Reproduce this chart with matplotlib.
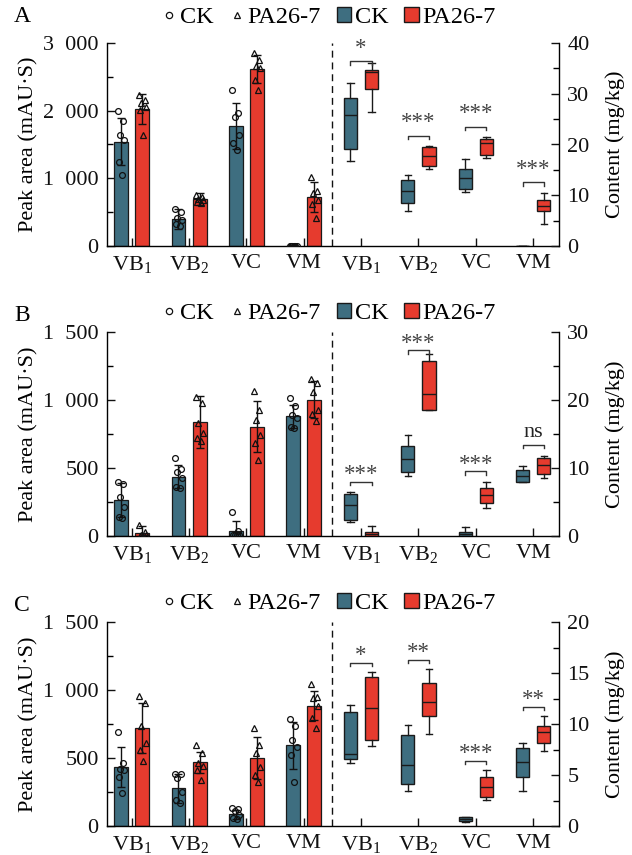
import matplotlib
matplotlib.use('Agg')
import matplotlib.pyplot as plt
from matplotlib.lines import Line2D
from matplotlib.patches import Patch
from matplotlib.ticker import MultipleLocator, FuncFormatter

plt.rcParams['font.family'] = ['Liberation Serif', 'DejaVu Serif']
plt.rcParams['mathtext.fontset'] = 'custom'
plt.rcParams['mathtext.rm'] = 'Liberation Serif'
plt.rcParams['mathtext.it'] = 'Liberation Serif:italic'

# ---------------- data ----------------
categories = [r'$\mathregular{VB_1}$', r'$\mathregular{VB_2}$', 'VC', 'VM']
groups = ['CK', 'PA26-7']

# Panel A (peak area bars, left) ------------------------------------------
A_ck_points = [[1997, 1854, 1641, 1567, 1236, 1048], [540, 500, 420, 380, 330, 290],
               [2299, 1972, 1913, 1641, 1518, 1419], [5, 5, 5, 5, 5, 5]]
A_ck_mean = [1542, 405, 1775, 5]
A_ck_sd = [345, 149, 335, 5]
A_pa_points = [[2230, 2160, 2110, 2060, 2010, 1640], [750, 730, 700, 680, 650, 640],
               [2852, 2753, 2654, 2630, 2457, 2308], [1023, 816, 776, 677, 628, 420]]
A_pa_mean = [2027, 692, 2620, 727]
A_pa_sd = [217, 84, 207, 222]
# Panel A content boxes (whislo, q1, med, q3, whishi)
A_ck_box = [[16.7, 19.2, 25.9, 29.2, 32.1], [6.8, 8.5, 10.9, 13.1, 14.0],
            [10.6, 11.2, 13.4, 15.2, 17.2], [0, 0, 0, 0, 0]]
A_pa_box = [[26.4, 30.9, 34.2, 34.7, 36.0], [15.2, 15.7, 17.7, 19.5, 19.7],
            [17.4, 18.0, 20.2, 21.0, 21.5], [4.3, 6.8, 7.9, 9.1, 10.4]]
A_sig = ['*', '***', '***', '***']
A_sig_y = [36.4, 21.7, 23.5, 12.6]

# Panel B ---------------------------------------------------------------
B_ck_points = [[400, 383, 290, 216, 137, 130], [572, 491, 474, 425, 363, 356],
               [174, 40, 10, 5, 5, 5], [1014, 953, 891, 867, 805, 793]]
B_ck_mean = [265, 437, 39, 879]
B_ck_sd = [123, 86, 74, 86]
B_pa_points = [[80, 30, 10, 5, 2, 2], [1020, 980, 830, 760, 720, 700],
               [1063, 928, 854, 744, 683, 560], [1154, 1124, 1060, 928, 900, 845]]
B_pa_mean = [20, 835, 805, 1002]
B_pa_sd = [54, 191, 184, 135]
B_ck_box = [[2.1, 2.4, 4.5, 6.2, 6.5], [8.8, 9.4, 11.3, 13.2, 14.9],
            [0, 0, 0.3, 0.6, 1.3], [8.0, 8.0, 8.8, 9.7, 10.3]]
B_pa_box = [[0, 0, 0.3, 0.6, 1.4], [18.5, 18.6, 20.9, 25.7, 26.8],
            [4.1, 4.9, 6.0, 7.1, 8.0], [8.5, 9.1, 10.5, 11.5, 11.8]]
B_sig = ['***', '***', '***', 'ns']
B_sig_y = [8.0, 27.3, 9.5, 13.4]

# Panel C ---------------------------------------------------------------
C_ck_points = [[690, 462, 417, 413, 358, 241], [383, 383, 351, 253, 191, 167],
               [130, 125, 110, 80, 60, 50], [788, 732, 633, 584, 523, 327]]
C_ck_mean = [432, 277, 86, 592]
C_ck_sd = [147, 106, 32, 176]
C_pa_points = [[957, 903, 732, 609, 560, 479], [592, 540, 466, 442, 412, 339],
               [719, 597, 535, 437, 376, 327], [1043, 945, 940, 879, 793, 719]]
C_pa_mean = [719, 469, 503, 884]
C_pa_sd = [184, 78, 155, 105]
C_ck_box = [[6.2, 6.6, 7.1, 11.2, 11.9], [3.4, 4.1, 6.0, 8.9, 9.9],
            [0.4, 0.5, 0.65, 0.85, 0.9], [3.4, 4.85, 6.25, 7.6, 8.1]]
C_pa_box = [[7.8, 8.4, 11.6, 14.6, 15.1], [9.0, 10.8, 12.2, 14.0, 15.4],
            [2.55, 2.8, 3.8, 4.8, 5.5], [7.4, 8.1, 9.2, 9.85, 10.8]]
C_sig = ['*', '**', '***', '**']
C_sig_y = [16.0, 16.3, 6.4, 11.7]

left_max = [3000, 1500, 1500]
left_major = [1000, 500, 500]
right_max = [40, 30, 20]
right_major = [10, 10, 5]
panel_letters = ['A', 'B', 'C']

# ---------------- style ----------------
CK_COLOR = '#3E6E80'
PA_COLOR = '#E63B2E'
EDGE = '#1a1a1a'
FS = 15.5
OFF = 0.185
BW = 0.24
JIT = [-0.06, 0.04, -0.02, 0.06, -0.04, 0.02]


def thousands(v, pos):
    v = int(round(v))
    if v >= 1000:
        return f"{v // 1000}\u2002{v % 1000:03d}"
    return str(v)


fig = plt.figure(figsize=(6.32, 8.55), dpi=100)
W, H = 632, 855
ax_left = 107 / W
ax_width = (559 - 107) / W
tops_px = [43, 332, 622]
bottoms_px = [246, 536, 826]
legend_y = [1.125, 1.09, 1.09]
letter_px = [(14, 17), (14, 315), (14, 605)]

panels = [
    (A_ck_points, A_ck_mean, A_ck_sd, A_pa_points, A_pa_mean, A_pa_sd, A_ck_box, A_pa_box, A_sig, A_sig_y),
    (B_ck_points, B_ck_mean, B_ck_sd, B_pa_points, B_pa_mean, B_pa_sd, B_ck_box, B_pa_box, B_sig, B_sig_y),
    (C_ck_points, C_ck_mean, C_ck_sd, C_pa_points, C_pa_mean, C_pa_sd, C_ck_box, C_pa_box, C_sig, C_sig_y),
]
sig_off_px = [13, 7, 7]
ns_off_px = 12

for p, (ckp, ckm, cks, pap, pam, pas, ckb, pab, sig, sigy) in enumerate(panels):
    bottom = 1 - bottoms_px[p] / H
    hpx = bottoms_px[p] - tops_px[p]
    height = hpx / H
    ax = fig.add_axes([ax_left, bottom, ax_width, height])
    ax2 = ax.twinx()

    n = len(categories)
    xs = list(range(n))
    # bars
    for i in range(n):
        for (pts, m, s, col, mk, off) in [(ckp, ckm, cks, CK_COLOR, 'o', -OFF), (pap, pam, pas, PA_COLOR, '^', OFF)]:
            x = xs[i] + off
            ax.bar(x, m[i], width=BW, color=col, edgecolor=EDGE, linewidth=0.9, zorder=2)
            ax.errorbar(x, m[i], yerr=s[i], fmt='none', ecolor='#111111', elinewidth=1.0,
                        capsize=3, capthick=1.0, zorder=4)
            ax.plot([x + j for j in JIT[:len(pts[i])]], pts[i], linestyle='none', marker=mk,
                    markersize=4.2 if mk == 'o' else 4.0, markerfacecolor='none',
                    markeredgecolor='#111111', markeredgewidth=0.9, zorder=5)
    # boxes
    stats = []
    positions = []
    colors = []
    for i in range(n):
        for (bx, col, off) in [(ckb[i], CK_COLOR, -OFF), (pab[i], PA_COLOR, OFF)]:
            stats.append(dict(whislo=bx[0], q1=bx[1], med=bx[2], q3=bx[3], whishi=bx[4], fliers=[]))
            positions.append(n + i + off)
            colors.append(col)
    bp = ax2.bxp(stats, positions=positions, widths=0.23, patch_artist=True, showfliers=False,
                 boxprops=dict(edgecolor=EDGE, linewidth=1.0),
                 medianprops=dict(color=EDGE, linewidth=1.0),
                 whiskerprops=dict(color=EDGE, linewidth=1.0),
                 capprops=dict(color=EDGE, linewidth=1.0), manage_ticks=False)
    for patch, c in zip(bp['boxes'], colors):
        patch.set_facecolor(c)

    # significance brackets
    rmax = right_max[p]
    d = 0.017 * rmax
    for i in range(n):
        x1 = n + i - OFF
        x2 = n + i + OFF
        y = sigy[i]
        ax2.plot([x1, x1, x2, x2], [y - d, y, y, y - d], color='#333333', linewidth=1.0,
                 clip_on=False, zorder=6)
        txt = sig[i]
        if txt == 'ns':
            ax2.text((x1 + x2) / 2, y + ns_off_px / hpx * rmax, txt, ha='center', va='center',
                     fontsize=FS + 0.5, color='#222222')
        else:
            ax2.text((x1 + x2) / 2, y + sig_off_px[p] / hpx * rmax, txt,
                     ha='center', va='center', fontsize=16.5, color='#444444', clip_on=False)

    # dashed separator
    ax.axvline(n - 0.5, color='#111111', linestyle=(0, (5, 3.5)), linewidth=1.0)

    # axes
    ax.set_xlim(-0.43, 2 * n - 0.55)
    ax.set_ylim(0, left_max[p])
    ax2.set_ylim(0, right_max[p])
    ax.set_xticks(list(range(2 * n)))
    ax.set_xticklabels(categories + categories, fontsize=FS + 0.5)
    ax.yaxis.set_major_locator(MultipleLocator(left_major[p]))
    ax.yaxis.set_minor_locator(MultipleLocator(left_major[p] / 2))
    ax.yaxis.set_major_formatter(FuncFormatter(thousands))
    ax2.yaxis.set_major_locator(MultipleLocator(right_major[p]))
    ax2.yaxis.set_minor_locator(MultipleLocator(right_major[p] / 2))

    ax.tick_params(axis='both', which='major', direction='in', length=6, width=1.0,
                   labelsize=FS + 0.5, pad=6, colors='#111111')
    ax.tick_params(axis='y', which='minor', direction='in', length=4, width=1.0)
    ax2.tick_params(axis='y', which='major', direction='in', length=6, width=1.0,
                    labelsize=FS + 0.5, pad=6, colors='#111111')
    ax2.tick_params(axis='y', which='minor', direction='in', length=4, width=1.0)
    for s in ['top', 'right']:
        ax.spines[s].set_visible(False)
    for s in ['top', 'left', 'bottom']:
        ax2.spines[s].set_visible(False)
    for s in ['left', 'bottom']:
        ax.spines[s].set_linewidth(1.0)
    ax2.spines['right'].set_linewidth(1.0)

    ax.set_ylabel('Peak area (mAU·S)', fontsize=FS + 0.5, labelpad=3)
    ax2.set_ylabel('Content (mg/kg)', fontsize=FS + 0.5, labelpad=11)

    handles = [
        Line2D([], [], linestyle='none', marker='o', markersize=4.5, markerfacecolor='none',
               markeredgecolor='#111111', markeredgewidth=0.9),
        Line2D([], [], linestyle='none', marker='^', markersize=4.5, markerfacecolor='none',
               markeredgecolor='#111111', markeredgewidth=0.9),
        Patch(facecolor=CK_COLOR, edgecolor=EDGE, linewidth=1.0),
        Patch(facecolor=PA_COLOR, edgecolor=EDGE, linewidth=1.0),
    ]
    ax2.legend(handles, groups + groups, ncol=4, loc='center', bbox_to_anchor=(0.491, legend_y[p]),
               frameon=False, fontsize=17.5, handlelength=0.6, handleheight=0.6,
               handletextpad=0.15, columnspacing=0.65, borderaxespad=0, borderpad=0)

    fig.text(letter_px[p][0] / W, 1 - letter_px[p][1] / H, panel_letters[p], fontsize=17,
             ha='left', va='center')

fig.savefig('out.png', dpi=100)
